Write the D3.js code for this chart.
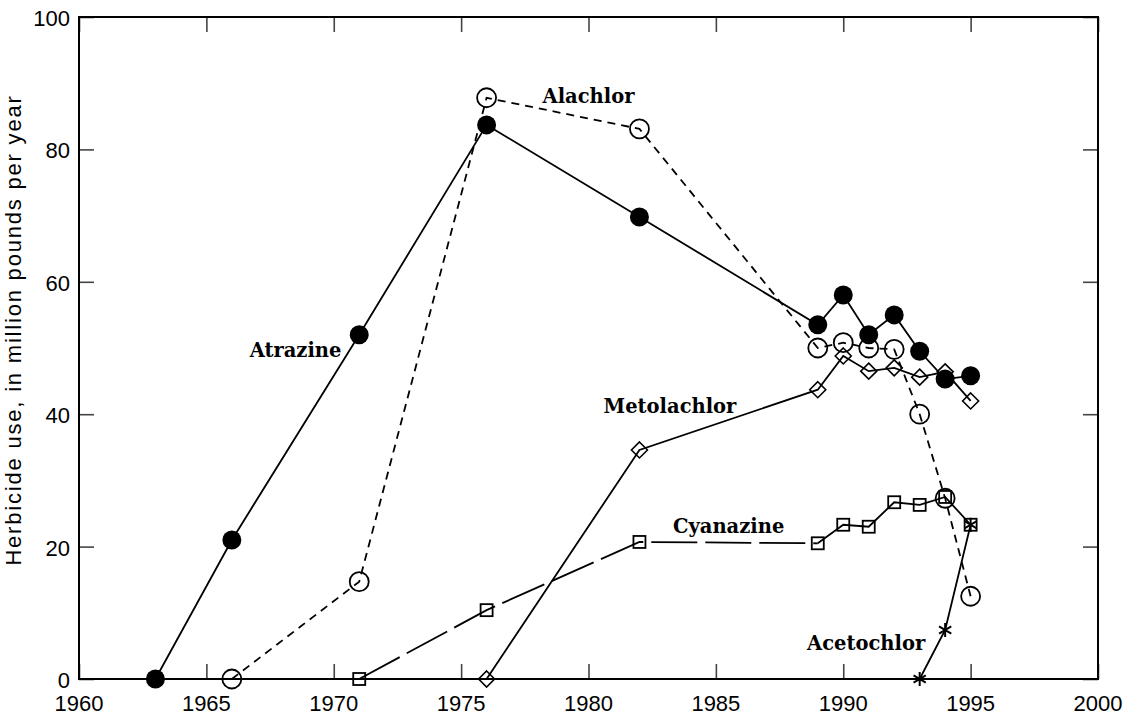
<!DOCTYPE html>
<html>
<head>
<meta charset="utf-8">
<script src="https://cdn.jsdelivr.net/npm/d3@7"></script>
<style>
  body { margin: 0; background: #fff; }
  .tick-label { font-family: "Liberation Sans", Arial, sans-serif; font-size: 22px; fill: #000; }
  .series-label { font-family: "DejaVu Serif", serif; font-weight: bold; font-size: 19.5px; fill: #000; }
</style>
</head>
<body>
<svg id="chart" width="1129" height="717"></svg>
<script>
// herbicide use, million pounds per year
const atrazineYears = [1963, 1966, 1971, 1976, 1982, 1989, 1990, 1991, 1992, 1993, 1994, 1995];
const atrazine = [0, 21.0, 52.0, 83.7, 69.8, 53.5, 58.0, 52.0, 55.0, 49.5, 45.3, 45.8];

const alachlorYears = [1966, 1971, 1976, 1982, 1989, 1990, 1991, 1992, 1993, 1994, 1995];
const alachlor = [0, 14.7, 87.8, 83.1, 50.0, 50.8, 50.0, 49.8, 40.0, 27.3, 12.5];

const metolachlorYears = [1976, 1982, 1989, 1990, 1991, 1992, 1993, 1994, 1995];
const metolachlor = [0, 34.6, 43.7, 48.8, 46.5, 47.0, 45.6, 46.4, 42.0];

const cyanazineYears = [1971, 1976, 1982, 1989, 1990, 1991, 1992, 1993, 1994, 1995];
const cyanazine = [0, 10.4, 20.7, 20.5, 23.3, 23.0, 26.7, 26.3, 27.5, 23.3];

const acetochlorYears = [1993, 1994, 1995];
const acetochlor = [0, 7.4, 23.3];

const xTicks = [1960, 1965, 1970, 1975, 1980, 1985, 1990, 1995, 2000];
const yTicks = [0, 20, 40, 60, 80, 100];

const svg = d3.select('#chart');
const plotL = 79, plotR = 1098, plotT = 17, plotB = 679;

const x = d3.scaleLinear().domain([1960, 2000]).range([plotL, plotR]);
const y = d3.scaleLinear().domain([0, 100]).range([plotB, plotT]);

const zip = (xs, vs) => xs.map((yr, i) => ({ year: yr, value: vs[i] }));
const line = d3.line().x(d => x(d.year)).y(d => y(d.value));

// axes: inward ticks on all four sides
const tickLen = 15;
svg.append('g').attr('transform', `translate(0,${plotB})`)
  .call(d3.axisBottom(x).tickValues(xTicks).tickSize(-tickLen).tickFormat(''))
  .call(g => g.select('.domain').remove());
svg.append('g').attr('transform', `translate(0,${plotT})`)
  .call(d3.axisTop(x).tickValues(xTicks).tickSize(-tickLen).tickFormat(''))
  .call(g => g.select('.domain').remove());
svg.append('g').attr('transform', `translate(${plotL},0)`)
  .call(d3.axisLeft(y).tickValues(yTicks).tickSize(-tickLen).tickFormat(''))
  .call(g => g.select('.domain').remove());
svg.append('g').attr('transform', `translate(${plotR},0)`)
  .call(d3.axisRight(y).tickValues(yTicks).tickSize(-tickLen).tickFormat(''))
  .call(g => g.select('.domain').remove());
svg.selectAll('.tick line').attr('stroke', '#444').attr('stroke-width', 1.6);

svg.append('rect')
  .attr('x', plotL).attr('y', plotT)
  .attr('width', plotR - plotL).attr('height', plotB - plotT)
  .attr('fill', 'none').attr('stroke', '#000').attr('stroke-width', 2);

// tick labels
svg.selectAll('.xlab').data(xTicks).enter().append('text')
  .attr('class', 'tick-label')
  .attr('x', d => x(d)).attr('y', plotB + 32)
  .attr('text-anchor', 'middle')
  .text(d => d);
svg.selectAll('.ylab').data(yTicks).enter().append('text')
  .attr('class', 'tick-label')
  .attr('x', plotL - 9).attr('y', d => y(d) + 9)
  .attr('text-anchor', 'end')
  .text(d => d);

svg.append('text')
  .attr('class', 'tick-label')
  .style('font-size', '22px')
  .style('letter-spacing', '1.8px')
  .attr('transform', 'translate(21,330) rotate(-90)')
  .attr('text-anchor', 'middle')
  .text('Herbicide use, in million pounds per year');

// lines
const stroke = { fill: 'none', stroke: '#000', 'stroke-width': 1.8 };
function drawLine(data, dash) {
  const p = svg.append('path').datum(data).attr('d', line);
  Object.entries(stroke).forEach(([k, v]) => p.attr(k, v));
  if (dash) p.attr('stroke-dasharray', dash);
}

const cyData = zip(cyanazineYears, cyanazine);
drawLine(cyData.filter(d => d.year <= 1989), '46,8');
drawLine(cyData.filter(d => d.year >= 1989));
drawLine(zip(metolachlorYears, metolachlor));
drawLine(zip(acetochlorYears, acetochlor));
drawLine(zip(alachlorYears, alachlor), '8,6');
drawLine(zip(atrazineYears, atrazine));

// markers
svg.selectAll('.sq').data(cyData).enter().append('rect')
  .attr('x', d => x(d.year) - 6).attr('y', d => y(d.value) - 6)
  .attr('width', 12).attr('height', 12)
  .attr('fill', 'none').attr('stroke', '#000').attr('stroke-width', 1.8);

const diamond = 'M0,-8L8,0L0,8L-8,0Z';
svg.selectAll('.dia').data(zip(metolachlorYears, metolachlor)).enter().append('path')
  .attr('d', diamond)
  .attr('transform', d => `translate(${x(d.year)},${y(d.value)})`)
  .attr('fill', 'none').attr('stroke', '#000').attr('stroke-width', 1.6);

svg.selectAll('.ast').data(zip(acetochlorYears, acetochlor)).enter().append('path')
  .attr('d', d3.symbol(d3.symbolAsterisk, 140))
  .attr('transform', d => `translate(${x(d.year)},${y(d.value)})`)
  .attr('fill', 'none').attr('stroke', '#000').attr('stroke-width', 2);

svg.selectAll('.oc').data(zip(alachlorYears, alachlor)).enter().append('circle')
  .attr('cx', d => x(d.year)).attr('cy', d => y(d.value)).attr('r', 9.5)
  .attr('fill', 'none').attr('stroke', '#000').attr('stroke-width', 1.8);

svg.selectAll('.fc').data(zip(atrazineYears, atrazine)).enter().append('circle')
  .attr('cx', d => x(d.year)).attr('cy', d => y(d.value)).attr('r', 9.5)
  .attr('fill', '#000');

// series labels
const labels = [
  { text: 'Alachlor', year: 1980.0, value: 87.0 },
  { text: 'Atrazine', year: 1968.5, value: 48.6 },
  { text: 'Metolachlor', year: 1983.2, value: 40.2 },
  { text: 'Cyanazine', year: 1985.5, value: 22.0 },
  { text: 'Acetochlor', year: 1990.9, value: 4.4 }
];
svg.selectAll('.slab').data(labels).enter().append('text')
  .attr('class', 'series-label')
  .attr('x', d => x(d.year)).attr('y', d => y(d.value))
  .attr('text-anchor', 'middle')
  .text(d => d.text);
</script>
</body>
</html>
